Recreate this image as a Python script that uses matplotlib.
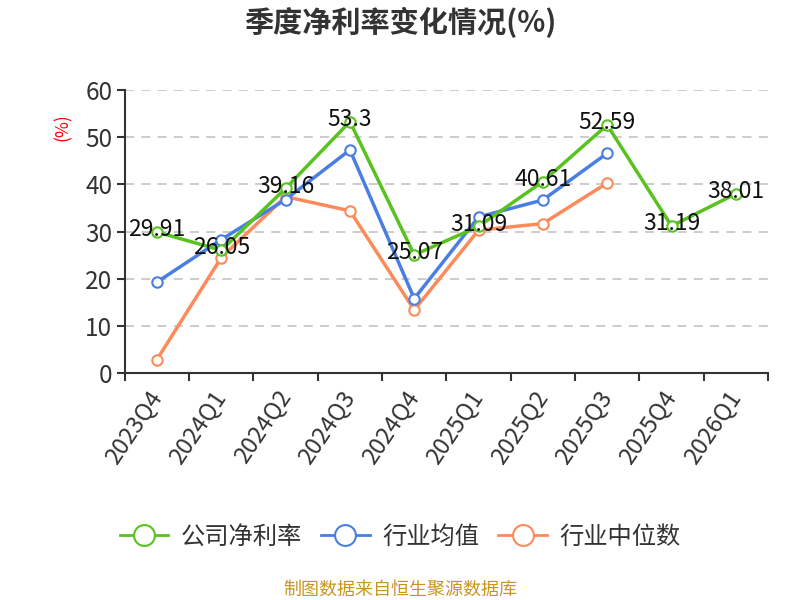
import matplotlib
matplotlib.use("Agg")
import matplotlib.pyplot as plt
from matplotlib.ticker import MultipleLocator

plt.rcParams['font.family'] = ['Noto Sans CJK SC', 'DejaVu Sans']

quarters = ["2023Q4", "2024Q1", "2024Q2", "2024Q3", "2024Q4",
            "2025Q1", "2025Q2", "2025Q3", "2025Q4", "2026Q1"]
company = [29.91, 26.05, 39.16, 53.3, 25.07, 31.09, 40.61, 52.59, 31.19, 38.01]
industry_avg = [19.3, 28.3, 36.8, 47.3, 15.8, 33.1, 36.7, 46.6, None, None]
industry_median = [2.9, 24.5, 37.4, 34.4, 13.4, 30.3, 31.7, 40.3, None, None]

green = '#58c21e'
blue = '#4a7ee3'
orange = '#fd8b5a'

fig = plt.figure(figsize=(8, 6), dpi=100)
ax = fig.add_axes([0.156, 0.378, 0.804, 0.472])

x = list(range(len(quarters)))

def plot_series(vals, color, label, z):
    xs = [i for i, v in enumerate(vals) if v is not None]
    ys = [v for v in vals if v is not None]
    ax.plot(xs, ys, color=color, lw=2.5, marker='o', markersize=7.5,
            markerfacecolor='white', markeredgecolor=color, markeredgewidth=1.5,
            label=label, zorder=z, clip_on=False)

plot_series(company, green, '公司净利率', 5)
plot_series(industry_avg, blue, '行业均值', 4)
plot_series(industry_median, orange, '行业中位数', 3)

for i, v in enumerate(company):
    ax.text(i, v + 0.5, f"{v:g}", ha='center', va='center', fontsize=16.5,
            color='#111111', zorder=6)

ax.set_xlim(-0.5, len(quarters) - 0.5)
ax.set_ylim(0, 60)
ax.yaxis.set_major_locator(MultipleLocator(10))
ax.set_xticks([i - 0.5 for i in range(len(quarters) + 1)], minor=False)
ax.set_xticklabels([''] * (len(quarters) + 1))
ax.set_xticks(x, minor=True)
ax.set_xticklabels(quarters, minor=True, rotation=56, ha='right', va='center',
                   rotation_mode='anchor', fontsize=17, color='#333333')
ax.tick_params(axis='x', which='minor', length=0, pad=14)
ax.tick_params(axis='x', which='major', length=6, width=1.5, color='#333333')
ax.tick_params(axis='y', length=6, width=1.5, color='#333333',
               labelsize=17.5, labelcolor='#333333', pad=3)

ax.grid(axis='y', linestyle=(0, (5, 4)), color='#c8c8c8', lw=1.3)
ax.set_axisbelow(True)
for s in ['top', 'right']:
    ax.spines[s].set_visible(False)
for s in ['left', 'bottom']:
    ax.spines[s].set_color('#333333')
    ax.spines[s].set_linewidth(1.5)

fig.text(0.079, 0.788, '(%)', rotation=90, color='red', fontsize=12.5,
         ha='center', va='center')

fig.text(0.5, 0.962, '季度净利率变化情况(%)', ha='center', va='center',
         fontsize=21, fontweight='bold', color='#333333')

leg = fig.legend(loc='center', bbox_to_anchor=(0.5, 0.105), ncol=3,
                 frameon=False, fontsize=17.5, handlelength=2.0,
                 columnspacing=0.8, handletextpad=0.5)
for t in leg.get_texts():
    t.set_color('#333333')
for h in leg.legend_handles:
    h.set_markersize(15)
    h.set_linewidth(2)

fig.text(0.5, 0.018, '制图数据来自恒生聚源数据库', ha='center', va='center',
         fontsize=13, color='#c8961e')

fig.savefig('out.png', dpi=100)
